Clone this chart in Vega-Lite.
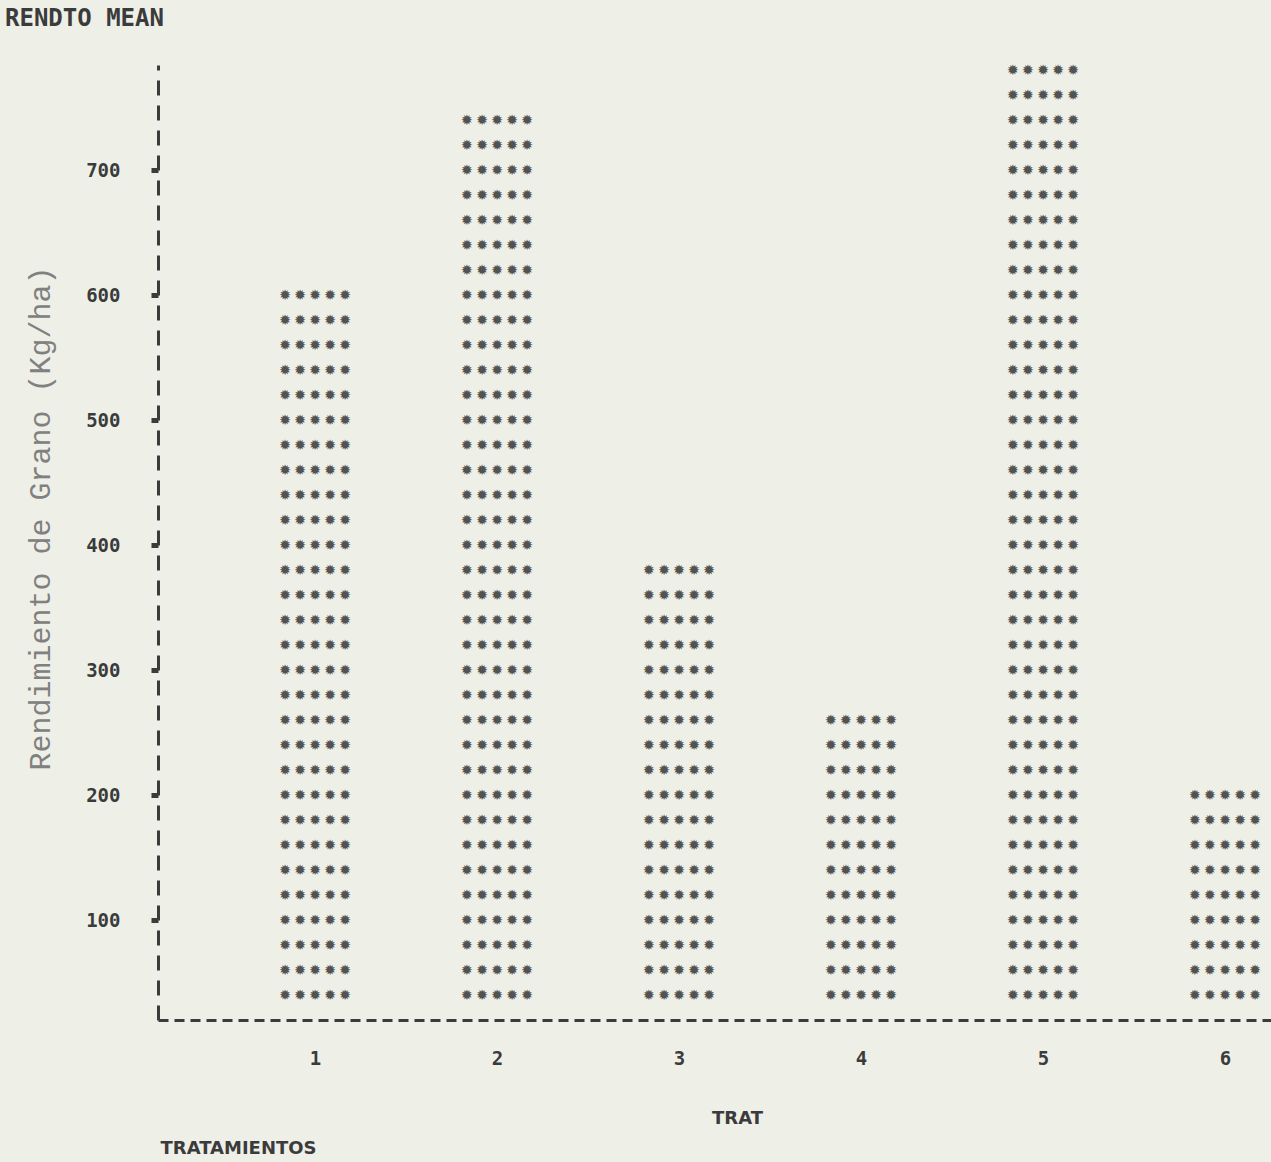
{
  "$schema": "https://vega.github.io/schema/vega-lite/v6.json",
  "width": 1113,
  "height": 955,
  "autosize": {"type": "none"},
  "padding": {"left": 158, "top": 65, "right": 0, "bottom": 142},
  "background": "#eef0e8",
  "config": {"view": {"stroke": null}},
  "title": {
    "text": "RENDTO MEAN",
    "anchor": "start",
    "frame": "group",
    "dx": -153,
    "offset": 20,
    "baseline": "middle",
    "font": "DejaVu Sans Mono",
    "fontSize": 24,
    "fontWeight": "bold",
    "color": "#3b3b3b"
  },
  "data": {
    "values": [
      {"trat": 1, "rend": 600},
      {"trat": 2, "rend": 740},
      {"trat": 3, "rend": 380},
      {"trat": 4, "rend": 260},
      {"trat": 5, "rend": 780},
      {"trat": 6, "rend": 200}
    ]
  },
  "encoding": {
    "x": {
      "field": "trat",
      "type": "quantitative",
      "scale": {"domain": [0.137, 6.253], "nice": false, "zero": false},
      "axis": {
        "values": [1, 2, 3, 4, 5, 6],
        "format": "d",
        "title": "TRAT",
        "ticks": false,
        "grid": false,
        "domainDash": [10, 6],
        "domainWidth": 3,
        "domainColor": "#3b3b3b",
        "labelFont": "DejaVu Sans Mono",
        "labelFontWeight": "bold",
        "labelFontSize": 19,
        "labelColor": "#3b3b3b",
        "labelPadding": 29,
        "titleX": 579,
        "titleY": 98,
        "titleFont": "DejaVu Sans",
        "titleFontWeight": "bold",
        "titleFontSize": 18,
        "titleColor": "#3b3b3b",
        "titleBaseline": "middle"
      }
    }
  },
  "layer": [
    {
      "mark": {
        "type": "text",
        "text": {"expr": "pad('', floor((datum.rend - 20) / 20), '✹\u2009✹\u2009✹\u2009✹\u2009✹\\n')"},
        "lineBreak": "\n",
        "lineHeight": 25,
        "baseline": "line-top",
        "dy": -12.5,
        "align": "center",
        "font": "DejaVu Sans",
        "fontSize": 14.5,
        "fill": "#525252"
      },
      "encoding": {
        "y": {
          "field": "rend",
          "type": "quantitative",
          "scale": {"domain": [20, 784], "nice": false, "zero": false},
          "axis": {
            "values": [100, 200, 300, 400, 500, 600, 700],
            "format": "d",
            "title": "Rendimiento de Grano (Kg/ha)",
            "titleFont": "Liberation Mono",
            "titleFontSize": 30,
            "titleFontWeight": "normal",
            "titleColor": "#808080",
            "titleX": -118,
            "titleY": 453,
            "titleAlign": "center",
            "titleBaseline": "middle",
            "grid": false,
            "domainDash": [15, 10],
            "domainWidth": 3,
            "domainColor": "#3b3b3b",
            "tickSize": 7,
            "tickWidth": 5,
            "tickColor": "#3b3b3b",
            "labelPadding": 31,
            "labelFont": "DejaVu Sans Mono",
            "labelFontWeight": "bold",
            "labelFontSize": 19,
            "labelColor": "#3b3b3b"
          }
        }
      }
    },
    {
      "mark": {"type": "point", "opacity": 0},
      "encoding": {
        "y": {
          "field": "rend",
          "type": "quantitative",
          "scale": {"domain": [20, 784], "nice": false, "zero": false},
          "axis": {
            "orient": "right",
            "labels": false,
            "ticks": false,
            "domain": false,
            "grid": false,
            "title": "TRATAMIENTOS",
            "titleAngle": 0,
            "titleX": -1111,
            "titleY": 1083,
            "titleAlign": "left",
            "titleBaseline": "middle",
            "titleFont": "DejaVu Sans",
            "titleFontWeight": "bold",
            "titleFontSize": 18,
            "titleColor": "#3b3b3b"
          }
        }
      }
    }
  ],
  "resolve": {"axis": {"y": "independent"}}
}
